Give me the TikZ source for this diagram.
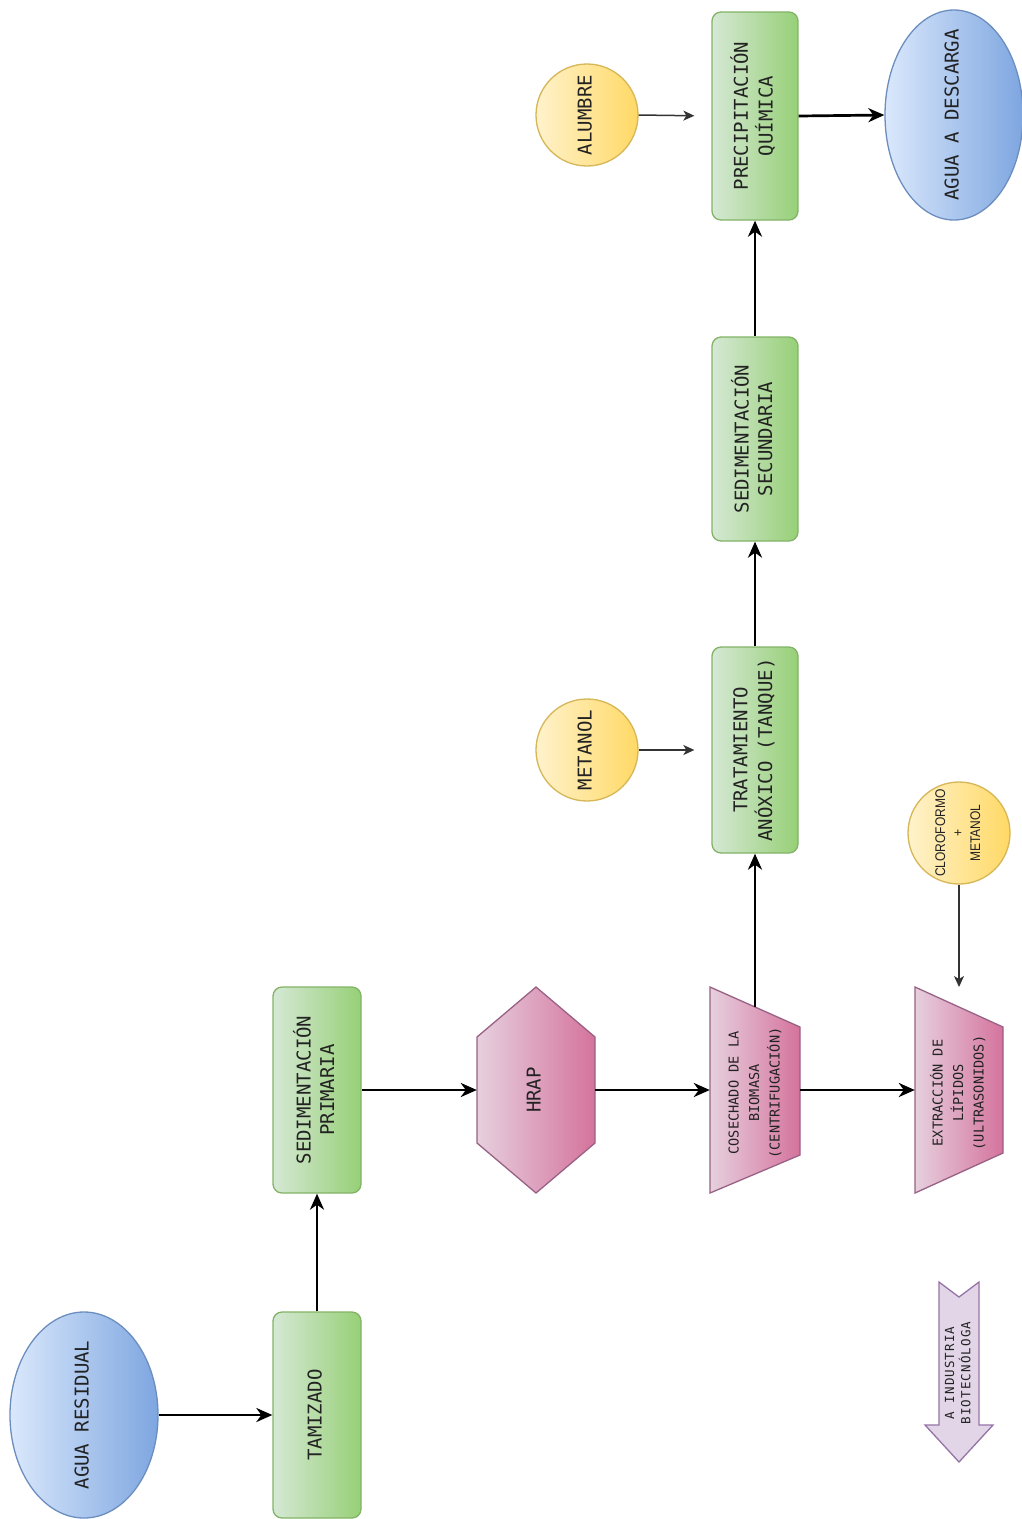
\documentclass[tikz,border=0pt]{standalone}
\usepackage{fontspec}
\usepackage{graphicx}
\usetikzlibrary{arrows.meta,shapes.geometric}
\newfontfamily\monofam{DejaVu Sans Mono}
\newfontfamily\arialfam[FakeStretch=0.86]{Liberation Sans}
\definecolor{gA}{HTML}{D5E8D4}\definecolor{gB}{HTML}{97D077}\definecolor{gS}{HTML}{82B366}
\definecolor{bA}{HTML}{DAE8FC}\definecolor{bB}{HTML}{7EA6E0}\definecolor{bS}{HTML}{6C8EBF}
\definecolor{yA}{HTML}{FFF2CC}\definecolor{yB}{HTML}{FFD966}\definecolor{yS}{HTML}{D6B656}
\definecolor{pA}{HTML}{E6D0DE}\definecolor{pB}{HTML}{D5739D}\definecolor{pS}{HTML}{996185}
\definecolor{vA}{HTML}{E1D5E7}\definecolor{vS}{HTML}{9673A6}
\definecolor{txt}{HTML}{222222}
\newcommand\rtxt[3]{\rotatebox{90}{\fontsize{#1}{#2}\selectfont\begin{tabular}{@{}c@{}}#3\end{tabular}}}
\tikzset{
  base/.style={inner sep=0pt, text=txt, font=\monofam},
  greenbox/.style={base, rectangle, rounded corners=9pt, draw=gS, line width=1.3pt,
     left color=gA, right color=gB, minimum width=88pt, minimum height=206pt},
  blueell/.style={base, ellipse, draw=bS, line width=1.3pt, left color=bA, right color=bB},
  yellowcirc/.style={base, circle, draw=yS, line width=1.3pt, left color=yA, right color=yB, minimum size=102pt},
  pinkshape/.style={draw=pS, line width=1.3pt, left color=pA, right color=pB},
  placeholder/.style={base, rectangle, draw=none},
  inlabel/.style={label={[base]center:{#1}}},
  thick arrow/.style={line width=2.7pt, -{Stealth[length=16pt,width=14pt,inset=5pt]}},
  thin arrow/.style={line width=1.5pt, draw=black!80, -{Stealth[length=11pt,width=10pt,inset=3pt]}},
}
\begin{document}
\begin{tikzpicture}[x=1pt,y=-1pt]
\useasboundingbox[fill=white] (0,0) rectangle (1022,1519);

% ellipses
\node[blueell, minimum width=148pt, minimum height=206pt, inlabel={\rtxt{19}{23.5}{AGUA RESIDUAL}}] (res) at (84,1415) {};
\node[blueell, minimum width=138pt, minimum height=210pt, inlabel={\rtxt{19}{23.5}{AGUA A DESCARGA}}] (des) at (954,115) {};

% green boxes
\node[greenbox] (tam) at (317,1415) {\rtxt{19}{23.5}{TAMIZADO}};
\node[greenbox] (sp) at (317,1090) {\rtxt{19}{23.5}{SEDIMENTACIÓN\\PRIMARIA}};
\node[greenbox, minimum width=86pt] (trat) at (755,750) {\rtxt{19}{23.5}{TRATAMIENTO\\ANÓXICO (TANQUE)}};
\node[greenbox, minimum width=86pt, minimum height=204pt] (ss) at (755,439) {\rtxt{19}{23.5}{SEDIMENTACIÓN\\SECUNDARIA}};
\node[greenbox, minimum width=86pt, minimum height=208pt] (pq) at (755,116) {\rtxt{19}{23.5}{PRECIPITACIÓN\\QUÍMICA}};

% yellow circles
\node[yellowcirc, inlabel={\rtxt{19}{23.5}{METANOL}}] (met) at (587,750) {};
\node[yellowcirc, inlabel={\rtxt{19}{23.5}{ALUMBRE}}] (alu) at (587,115) {};
\node[yellowcirc, inlabel={\arialfam\rtxt{14}{17.5}{CLOROFORMO\\+\\METANOL}}] (clo) at (959,833) {};

% HRAP hexagon
\path[pinkshape] (536,987) -- (595,1037) -- (595,1143) -- (536,1193) -- (477,1143) -- (477,1037) -- cycle;
\node[placeholder, minimum width=118pt, minimum height=206pt] (hrap) at (536,1090) {\rtxt{19}{23.5}{HRAP}};

% trapezoids
\path[pinkshape] (710,987) -- (800,1027) -- (800,1155) -- (710,1193) -- cycle;
\node[placeholder, minimum width=90pt, minimum height=206pt] (cos) at (755,1093) {\rtxt{13.6}{20.5}{COSECHADO DE LA\\BIOMASA\\(CENTRIFUGACIÓN)}};
\path[pinkshape] (915,987) -- (1003,1027) -- (1003,1153) -- (915,1193) -- cycle;
\node[placeholder, minimum width=88pt, minimum height=206pt] (ext) at (959,1093) {\rtxt{13.6}{20.5}{EXTRACCIÓN DE\\LÍPIDOS\\(ULTRASONIDOS)}};
\coordinate (cosT) at (755,1007);
\coordinate (extT) at (959,1007);

% industry arrow
\path[draw=vS, line width=1.3pt, fill=vA] (939,1282) -- (959,1297) -- (979,1282) -- (979,1425) -- (993,1425) -- (959,1462) -- (925,1425) -- (939,1425) -- cycle;
\node[placeholder] (ind) at (959,1373) {\rtxt{12.5}{16}{\addfontfeature{LetterSpace=9}A INDUSTRIA\\\addfontfeature{LetterSpace=9}BIOTECNÓLOGA}};

% connectors
\draw[thick arrow] (res.east) -- (tam.west);
\draw[thick arrow] (tam.north) -- (sp.south);
\draw[thick arrow] (sp.east) -- (hrap.west);
\draw[thick arrow] (hrap.east) -- (cos.west |- hrap.east);
\draw[thick arrow] (cos.east |- hrap.east) -- (ext.west |- hrap.east);
\draw[thick arrow] (cosT) -- (trat.south);
\draw[thick arrow] (trat.north) -- (ss.south);
\draw[thick arrow] (ss.north) -- (pq.south);
\draw[thick arrow] (pq.east) -- (des.west);
\draw[thin arrow, shorten >=17pt] (met.east) -- (trat.west);
\draw[thin arrow, shorten >=17pt] (alu.east) -- (pq.west);
\draw[thin arrow, shorten >=20pt] (clo.south) -- (extT);
\end{tikzpicture}
\end{document}
